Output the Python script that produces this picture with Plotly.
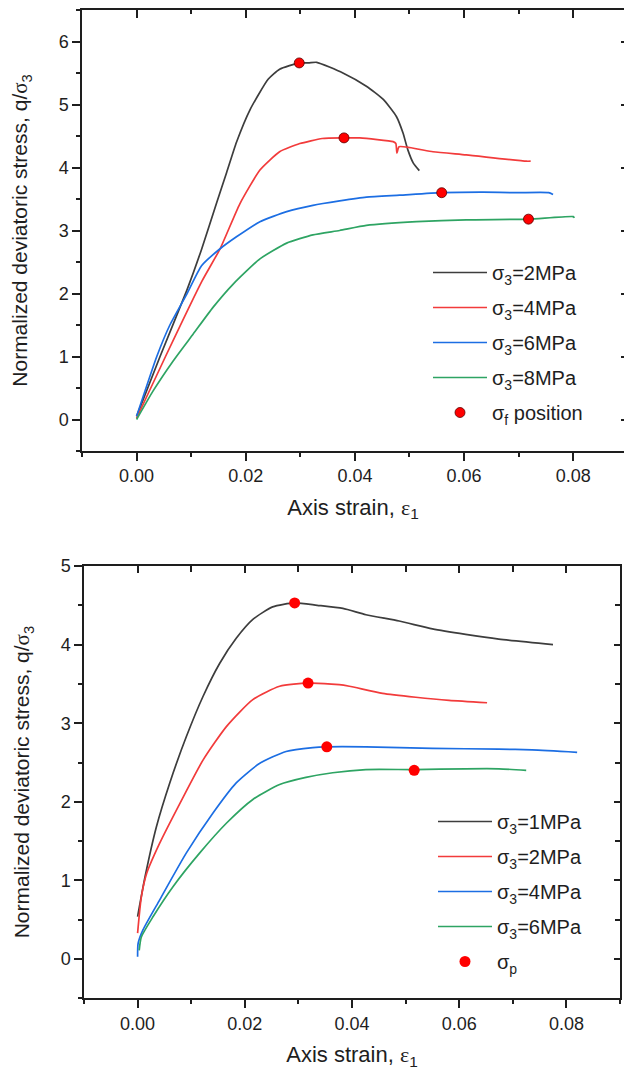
import plotly.graph_objects as go

# ---------------- Top panel data ----------------
top_names = ["σ<sub>3</sub>=2MPa", "σ<sub>3</sub>=4MPa", "σ<sub>3</sub>=6MPa", "σ<sub>3</sub>=8MPa"]

top_2mpa_strain = [0.0, 0.0043, 0.0092, 0.0119, 0.0147, 0.0165, 0.0183, 0.0208, 0.0241,
                   0.0262, 0.0298, 0.0315, 0.0330, 0.0378, 0.0421, 0.0452, 0.0476, 0.0488, 0.0497,
                   0.0507, 0.0518]
top_2mpa_q = [0.05, 1.00, 2.05, 2.70, 3.45, 3.92, 4.40, 4.92, 5.40,
              5.56, 5.66, 5.66, 5.67, 5.50, 5.29, 5.08, 4.81, 4.55, 4.28,
              4.07, 3.95]

top_4mpa_strain = [0.0, 0.0053, 0.0120, 0.0153, 0.0189, 0.0226, 0.0262, 0.0299, 0.0340,
                   0.0380, 0.0409, 0.0470, 0.0475, 0.0477, 0.0481, 0.0543, 0.0604, 0.0714, 0.0722]
top_4mpa_q = [0.02, 1.00, 2.20, 2.71, 3.42, 3.96, 4.25, 4.38, 4.46,
              4.47, 4.47, 4.41, 4.38, 4.23, 4.33, 4.25, 4.20, 4.10, 4.10]

top_6mpa_strain = [0.0, 0.0037, 0.0061, 0.0092, 0.0119, 0.0153, 0.0183, 0.0226, 0.0275, 0.0323,
                   0.0372, 0.0421, 0.0482, 0.0559, 0.0635, 0.0696, 0.0755, 0.0763]
top_6mpa_q = [0.05, 1.00, 1.50, 1.99, 2.44, 2.71, 2.90, 3.14, 3.30, 3.40,
              3.47, 3.53, 3.56, 3.60, 3.61, 3.60, 3.60, 3.57]

top_8mpa_strain = [0.0, 0.0030, 0.0067, 0.0104, 0.0140, 0.0177, 0.0226, 0.0275, 0.0323, 0.0372,
                   0.0421, 0.0513, 0.0604, 0.0718, 0.0800, 0.0802]
top_8mpa_q = [0.0, 0.45, 0.93, 1.36, 1.78, 2.15, 2.55, 2.80, 2.93, 3.00,
              3.08, 3.14, 3.17, 3.18, 3.22, 3.20]

top_peak_strain = [0.0298, 0.0380, 0.0559, 0.0718]
top_peak_q = [5.66, 4.47, 3.60, 3.18]
top_peak_name = "σ<sub>f</sub> position"

# ---------------- Bottom panel data ----------------
bot_names = ["σ<sub>3</sub>=1MPa", "σ<sub>3</sub>=2MPa", "σ<sub>3</sub>=4MPa", "σ<sub>3</sub>=6MPa"]

bot_1mpa_strain = [0.0, 0.0014, 0.0035, 0.0060, 0.0091, 0.0122, 0.0153, 0.0184, 0.0215, 0.0252,
                   0.0293, 0.0335, 0.0383, 0.0426, 0.0488, 0.0550, 0.0612, 0.0674, 0.0775]
bot_1mpa_q = [0.54, 1.05, 1.68, 2.24, 2.83, 3.34, 3.76, 4.08, 4.32, 4.48,
              4.53, 4.50, 4.46, 4.38, 4.30, 4.20, 4.13, 4.07, 4.00]

bot_2mpa_strain = [0.0, 0.0007, 0.0017, 0.0041, 0.0079, 0.0122, 0.0166, 0.0215, 0.0265, 0.0318,
                   0.0376, 0.0395, 0.0457, 0.0519, 0.0581, 0.0652]
bot_2mpa_q = [0.33, 0.79, 1.09, 1.47, 1.98, 2.53, 2.96, 3.30, 3.47, 3.51,
              3.49, 3.47, 3.38, 3.33, 3.29, 3.26]

bot_4mpa_strain = [0.0, 0.0001, 0.0010, 0.0041, 0.0091, 0.0141, 0.0184, 0.0228, 0.0277, 0.0327,
                   0.0353, 0.0426, 0.0550, 0.0674, 0.0736, 0.0820]
bot_4mpa_q = [0.03, 0.20, 0.37, 0.75, 1.35, 1.86, 2.24, 2.49, 2.64, 2.69,
              2.70, 2.70, 2.68, 2.67, 2.66, 2.63]

bot_6mpa_strain = [0.0003, 0.0007, 0.0029, 0.0066, 0.0116, 0.0166, 0.0215, 0.0265, 0.0314, 0.0364,
                   0.0426, 0.0516, 0.0612, 0.0674, 0.0725]
bot_6mpa_q = [0.11, 0.28, 0.54, 0.92, 1.35, 1.73, 2.03, 2.22, 2.31, 2.37,
              2.41, 2.41, 2.42, 2.42, 2.40]

bot_peak_strain = [0.0293, 0.0318, 0.0353, 0.0516]
bot_peak_q = [4.53, 3.51, 2.70, 2.40]
bot_peak_name = "σ<sub>p</sub>"

# ---------------- Axis text ----------------
x_title = "Axis strain, <span style='font-family:Liberation Serif'>ε</span><sub>1</sub>"
y_title = "Normalized deviatoric stress, q/<span style='font-family:Liberation Serif'>σ</span><sub>3</sub>"

colors = ["#3d3d3d", "#f23b3b", "#1c6ee3", "#2ea463"]
SANS = "Liberation Sans, Arial, sans-serif"
AX = "#1e1e1e"

fig = go.Figure()

top_series = [(top_2mpa_strain, top_2mpa_q), (top_4mpa_strain, top_4mpa_q),
              (top_6mpa_strain, top_6mpa_q), (top_8mpa_strain, top_8mpa_q)]
for i, ((sx, sy), nm) in enumerate(zip(top_series, top_names)):
    fig.add_trace(go.Scatter(x=sx, y=sy, mode="lines", name=nm, legend="legend",
                             legendgroup="t%d" % i,
                             line=dict(color=colors[i], width=1.7, shape="spline", smoothing=0.5),
                             xaxis="x", yaxis="y"))
fig.add_trace(go.Scatter(x=top_peak_strain, y=top_peak_q, mode="markers", name=top_peak_name,
                         legend="legend", legendgroup="tp",
                         marker=dict(color="#ff0000", size=10, line=dict(color="#5a0000", width=0.8)),
                         xaxis="x", yaxis="y"))

bot_series = [(bot_1mpa_strain, bot_1mpa_q), (bot_2mpa_strain, bot_2mpa_q),
              (bot_4mpa_strain, bot_4mpa_q), (bot_6mpa_strain, bot_6mpa_q)]
for i, ((sx, sy), nm) in enumerate(zip(bot_series, bot_names)):
    fig.add_trace(go.Scatter(x=sx, y=sy, mode="lines", name=nm, legend="legend2",
                             legendgroup="b%d" % i,
                             line=dict(color=colors[i], width=1.7, shape="spline", smoothing=0.6),
                             xaxis="x2", yaxis="y2"))
fig.add_trace(go.Scatter(x=bot_peak_strain, y=bot_peak_q, mode="markers", name=bot_peak_name,
                         legend="legend2", legendgroup="bp",
                         marker=dict(color="#ff0000", size=11, line=dict(width=0)),
                         xaxis="x2", yaxis="y2"))

# empty helper traces so that the mirrored (top / right) frame axes are drawn
for xa, ya in [("x3", "y"), ("x", "y3"), ("x4", "y2"), ("x2", "y4")]:
    fig.add_trace(go.Scatter(x=[None], y=[None], mode="lines", showlegend=False,
                             hoverinfo="skip", xaxis=xa, yaxis=ya))

H = 1073.0
W = 624.0
top_dom_x = [82 / W, 1.0]
top_dom_y = [1 - 451 / H, 1 - 10 / H]
bot_dom_x = [84 / W, 620 / W]
bot_dom_y = [1 - 998.3 / H, 1 - 566 / H]

tickfont = dict(family=SANS, size=18, color=AX)
titlefont = dict(family=SANS, size=22, color=AX)

def main_x(dom, rng, anchor):
    return dict(domain=dom, range=rng, anchor=anchor, showgrid=False, zeroline=False,
                automargin=False,
                showline=True, linecolor=AX, linewidth=1.5,
                ticks="outside", ticklen=8, tickwidth=1.5, tickcolor=AX,
                tick0=0, dtick=0.02, tickformat=".2f", tickfont=tickfont,
                minor=dict(ticks="outside", ticklen=4, tickwidth=1.5, tickcolor=AX, dtick=0.01, tick0=0),
                title=dict(text=x_title, font=titlefont, standoff=14))

def main_y(dom, rng, anchor):
    return dict(domain=dom, range=rng, anchor=anchor, showgrid=False, zeroline=False,
                automargin=False,
                showline=True, linecolor=AX, linewidth=1.5,
                ticks="outside", ticklen=8, tickwidth=1.5, tickcolor=AX,
                tick0=0, dtick=1, tickfont=tickfont,
                minor=dict(ticks="outside", ticklen=4, tickwidth=1.5, tickcolor=AX, dtick=0.5, tick0=0),
                title=dict(text=y_title, font=dict(family=SANS, size=21, color=AX), standoff=25))

def mirror_ax(over, side, anchor, rng, dtick, mdtick, tlen, mlen, line):
    d = dict(overlaying=over, side=side, anchor=anchor, range=rng, automargin=False,
             showgrid=False, zeroline=False, showline=line, linecolor=AX, linewidth=1.5,
             ticks="inside", ticklen=tlen, tickwidth=1.5, tickcolor=AX, tick0=0, dtick=dtick,
             showticklabels=False)
    if mdtick:
        d["minor"] = dict(ticks="inside", ticklen=mlen, tickwidth=1.5, tickcolor=AX, dtick=mdtick, tick0=0)
    return d

fig.update_layout(
    template="none",
    width=624, height=1073,
    margin=dict(l=0, r=0, t=0, b=0, autoexpand=False),
    paper_bgcolor="white", plot_bgcolor="white",
    xaxis=main_x(top_dom_x, [-0.01, 0.0893], "y"),
    yaxis=main_y(top_dom_y, [-0.5, 6.5], "x"),
    xaxis2=main_x(bot_dom_x, [-0.01, 0.09], "y2"),
    yaxis2=main_y(bot_dom_y, [-0.5, 5.0], "x2"),
    xaxis3=mirror_ax("x", "top", "y", [-0.01, 0.0893], 0.02, 0.01, 8, 4, True),
    yaxis3=mirror_ax("y", "right", "x", [-0.5, 6.5], 1, None, 3, 0, False),
    xaxis4=mirror_ax("x2", "top", "y2", [-0.01, 0.09], 0.02, 0.01, 7, 6, True),
    yaxis4=mirror_ax("y2", "right", "x2", [-0.5, 5.0], 1, 0.5, 6, 5, True),
    legend=dict(x=428 / W, y=1 - 253 / H, xanchor="left", yanchor="top",
                bgcolor="rgba(0,0,0,0)", borderwidth=0, itemwidth=54,
                font=dict(family=SANS, size=20, color=AX),
                traceorder="grouped", tracegroupgap=6),
    legend2=dict(x=433 / W, y=1 - 802 / H, xanchor="left", yanchor="top",
                 bgcolor="rgba(0,0,0,0)", borderwidth=0, itemwidth=54,
                 font=dict(family=SANS, size=20, color=AX),
                 traceorder="grouped", tracegroupgap=6),
    showlegend=True,
)

fig.write_html("out.html", config={"displayModeBar": False},
               post_script="document.body.style.margin='0';document.body.style.overflow='hidden';")
